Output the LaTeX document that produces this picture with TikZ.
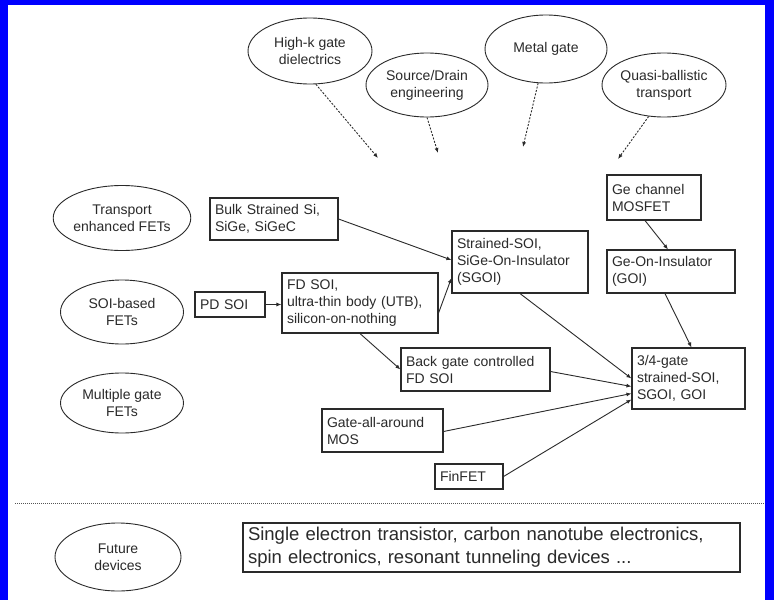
\documentclass[tikz,border=0pt]{standalone}
\usepackage{fontspec}
\setmainfont{Liberation Sans}
\usetikzlibrary{shapes.geometric,arrows.meta}
\definecolor{ink}{HTML}{2A2A2A}
\definecolor{frameblue}{RGB}{0,0,255}
\begin{document}
\begin{tikzpicture}[x=1pt,y=-1pt,
  box/.style={draw=ink,line width=1.1pt,rectangle,inner xsep=4pt,inner ysep=0pt,
    align=left,text=ink,font=\fontsize{14}{17}\selectfont},
  bigbox/.style={box,font=\fontsize{18.5}{23}\selectfont},
  ell/.style={draw=ink,ellipse,line width=0.9pt,inner sep=0pt,align=center,
    text=ink,font=\fontsize{14}{17}\selectfont},
  link/.style={draw=ink,line width=0.9pt,-{Latex[length=5pt,width=4pt]}},
  hint/.style={draw=ink,line width=0.9pt,dash pattern=on 2pt off 1.5pt,
    -{Latex[length=5pt,width=4pt]}},
  sep/.style={draw=ink!80,line width=0.9pt,dash pattern=on 1pt off 1pt}]

\useasboundingbox (0,0) rectangle (774,600);
\fill[white] (0,0) rectangle (774,600);

% frame strips
\fill[frameblue] (0,0) rectangle (774,5);
\fill[frameblue] (0,0) rectangle (8,600);
\fill[frameblue] (765,0) rectangle (774,600);

% technology drivers
\node[ell,minimum width=124pt,minimum height=66pt] (hik)   at (310,51)  {High-k gate\\dielectrics};
\node[ell,minimum width=122pt,minimum height=64pt] (sd)    at (427,85)  {Source/Drain\\engineering};
\node[ell,minimum width=122pt,minimum height=68pt] (metal) at (546,49)  {Metal gate};
\node[ell,minimum width=124pt,minimum height=64pt] (quasi) at (664,85)  {Quasi-ballistic\\transport};

% device families
\node[ell,minimum width=123pt,minimum height=65pt] (tef) at (122,218) {Transport\\enhanced FETs};
\node[ell,minimum width=123pt,minimum height=64pt] (soif) at (122,312) {SOI-based\\FETs};
\node[ell,minimum width=123pt,minimum height=60pt] (mgf) at (122,403) {Multiple gate\\FETs};
\node[ell,minimum width=126pt,minimum height=68pt] (fut) at (118,557) {Future\\devices};

% device boxes
\node[box,minimum width=128pt,minimum height=42pt,text width=118pt] (bulk) at (274,219) {Bulk Strained Si,\\SiGe, SiGeC};
\node[box,minimum width=70pt,minimum height=25pt,text width=60pt] (pdsoi) at (230,304.5) {PD SOI};
\node[box,minimum width=156pt,minimum height=60pt,text width=146pt] (fdsoi) at (360,303) {FD SOI,\\ultra-thin body (UTB),\\silicon-on-nothing};
\node[box,minimum width=136pt,minimum height=62pt,text width=126pt] (ssoi) at (520,262) {Strained-SOI,\\SiGe-On-Insulator\\(SGOI)};
\node[box,minimum width=94pt,minimum height=45pt,text width=84pt] (gech) at (654,197.5) {Ge channel\\MOSFET};
\node[box,minimum width=128pt,minimum height=43pt,text width=118pt] (goi) at (671,271.5) {Ge-On-Insulator\\(GOI)};
\node[box,minimum width=149pt,minimum height=43pt,text width=139pt] (bg) at (475.5,369.5) {Back gate controlled\\FD SOI};
\node[box,minimum width=113pt,minimum height=61pt,text width=103pt] (g34) at (688.5,378.5) {3/4-gate\\strained-SOI,\\SGOI, GOI};
\node[box,minimum width=121pt,minimum height=43pt,text width=111pt] (gaa) at (382.5,430.5) {Gate-all-around\\MOS};
\node[box,minimum width=68pt,minimum height=25pt,text width=58pt] (fin) at (469,476.5) {FinFET};
\node[bigbox,minimum width=497pt,minimum height=49pt,text width=487pt] (futbox) at (491.5,547.5) {Single electron transistor, carbon nanotube electronics,\\spin electronics, resonant tunneling devices ...};

% free ends of the driver arrows
\coordinate (hikEnd)   at (378,158);
\coordinate (sdEnd)    at (438,153);
\coordinate (metalEnd) at (523,147);
\coordinate (quasiEnd) at (618,159);

\draw[hint] (hik.-80)    -- (hikEnd);
\draw[hint] (sd.south)   -- (sdEnd);
\draw[hint] (metal.-103) -- (metalEnd);
\draw[hint] (quasi.-116) -- (quasiEnd);

% evolution links
\draw[link] (bulk.east) -- ([yshift=2pt]ssoi.west);
\draw[link] ([yshift=-10pt]fdsoi.east) -- ([yshift=-16pt]ssoi.west);
\draw[link] (pdsoi.east) -- (pdsoi.east -| fdsoi.west);
\draw[link] (fdsoi.south) -- (bg.west);
\draw[link] (ssoi.south) -- (g34.west);
\draw[link] ([yshift=-2pt]bg.east) -- ([yshift=-8pt]g34.west);
\draw[link] ([yshift=-1pt]gaa.east) -- ([yshift=-15pt]g34.west);
\draw[link] (fin.east) -- ([yshift=-21pt]g34.west);
\draw[link] ([xshift=-9pt]gech.south) -- ([xshift=-3pt]goi.north);
\draw[link] ([xshift=-6pt]goi.south) -- ([xshift=3pt]g34.north);

% separator between present and future
\coordinate (sepL) at (15,503);
\coordinate (sepR) at (765,503);
\draw[sep] (sepL) -- (sepR);
\end{tikzpicture}
\end{document}
